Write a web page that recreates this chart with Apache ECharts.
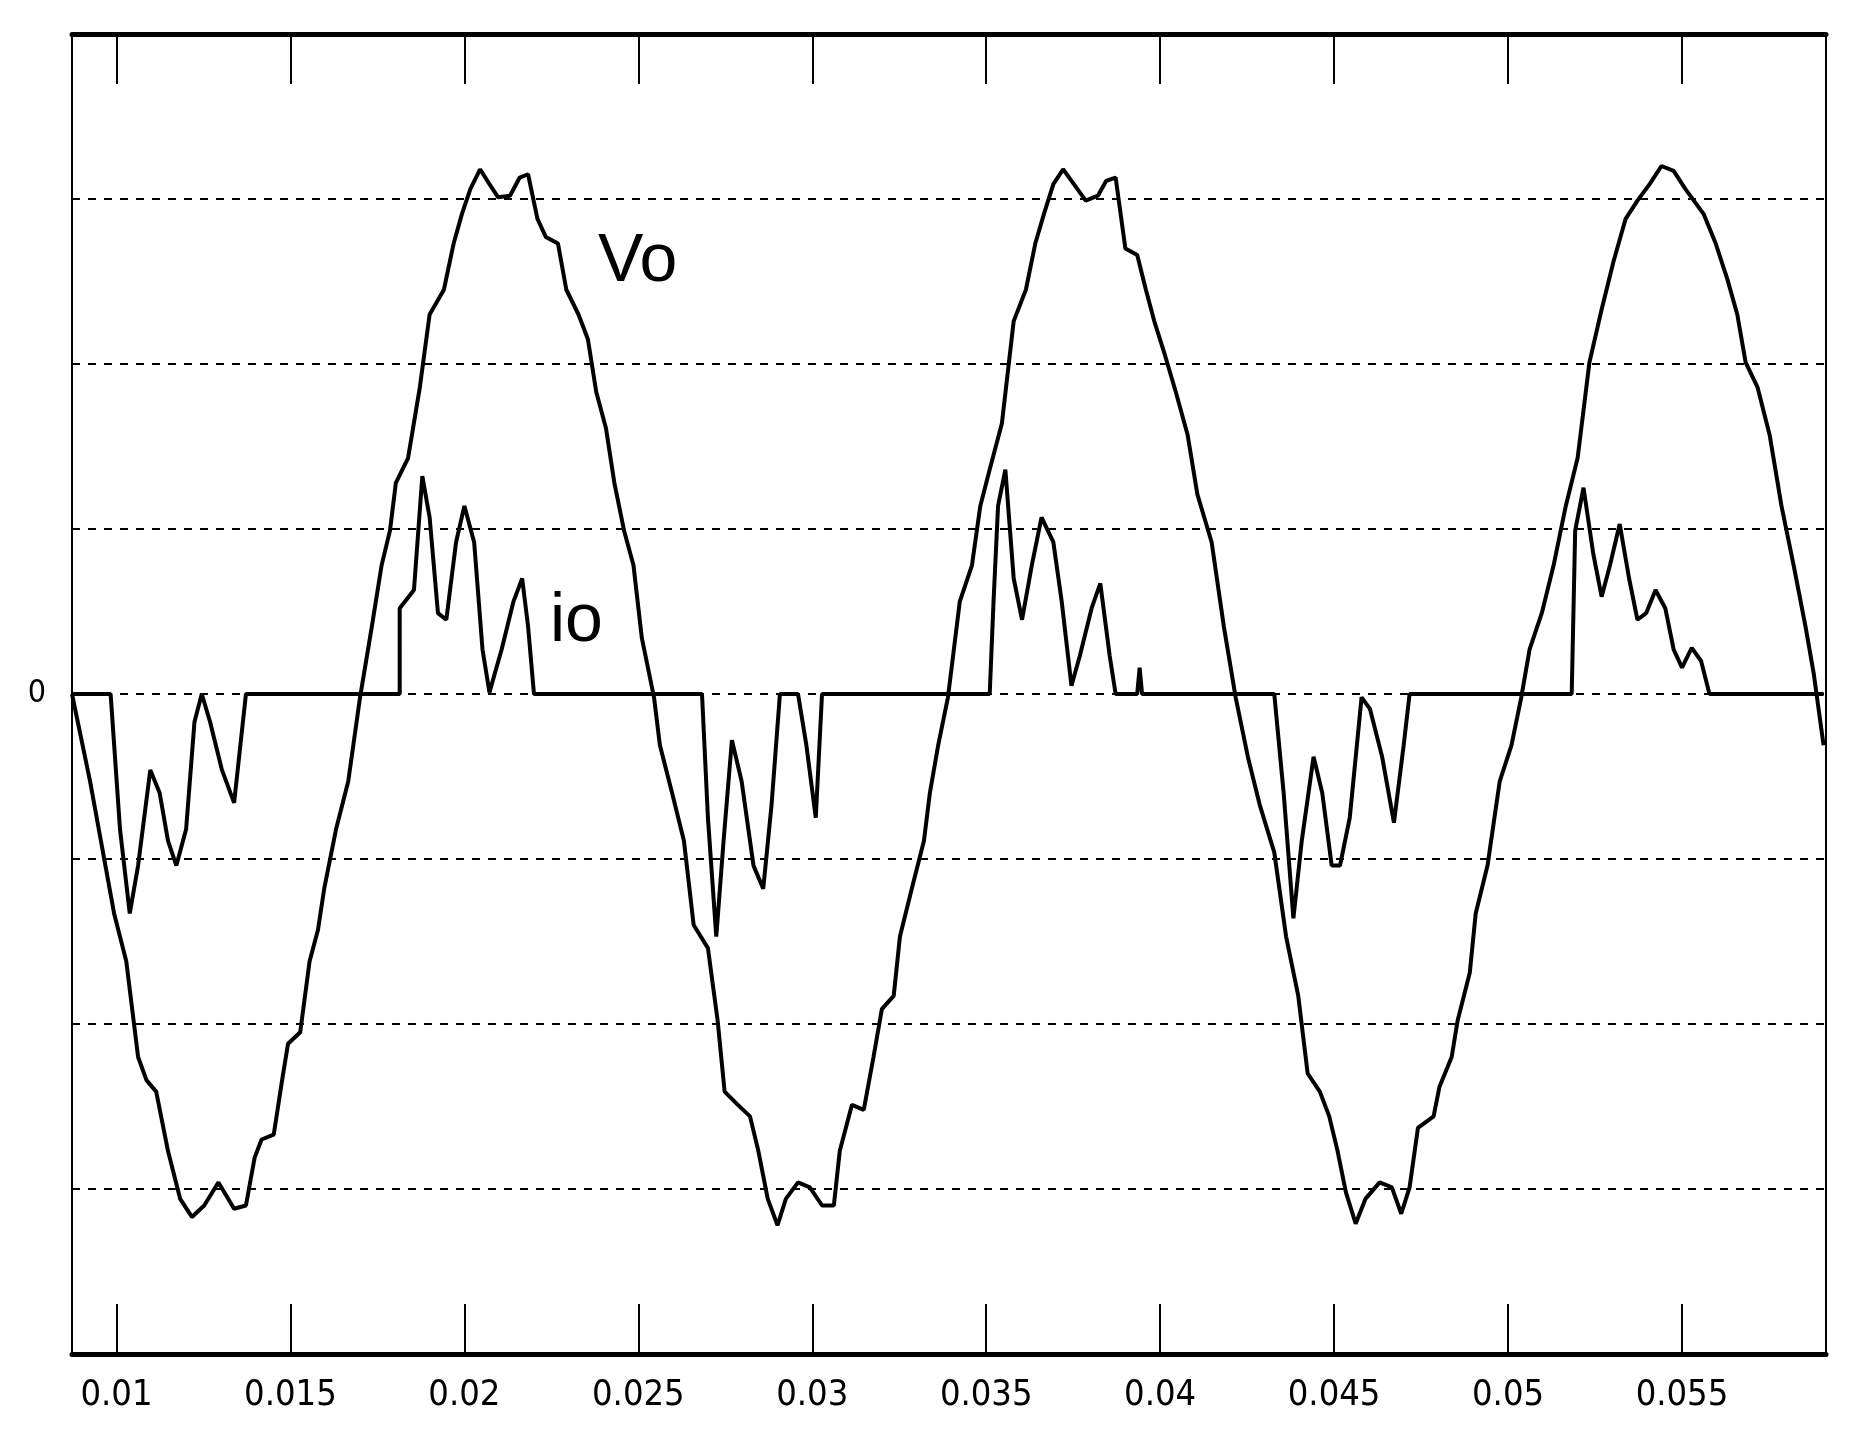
<!DOCTYPE html>
<html>
<head>
<meta charset="utf-8">
<script src="https://cdn.jsdelivr.net/npm/echarts@6/dist/echarts.min.js"></script>
<style>html,body{margin:0;padding:0;background:#fff}#main{width:1861px;height:1444px}</style>
</head>
<body>
<div id="main"></div>
<script>
var tickValues = [0.01, 0.015, 0.02, 0.025, 0.03, 0.035, 0.04, 0.045, 0.05, 0.055];
var tickLabels = ['0.01', '0.015', '0.02', '0.025', '0.03', '0.035', '0.04', '0.045', '0.05', '0.055'];

var vo = [
  [0.00872, 0], [0.00924, -0.53], [0.00993, -1.33], [0.01028, -1.62], [0.01062, -2.20], [0.01086, -2.34],
  [0.01114, -2.41], [0.01148, -2.77], [0.01183, -3.06], [0.01217, -3.17], [0.01252, -3.10], [0.01293, -2.96],
  [0.01338, -3.12], [0.01372, -3.10], [0.01397, -2.81], [0.01417, -2.70], [0.01452, -2.67], [0.01476, -2.34],
  [0.01493, -2.12], [0.01528, -2.05], [0.01555, -1.62], [0.01579, -1.43], [0.01597, -1.18], [0.01631, -0.82],
  [0.01666, -0.53], [0.01700, -0.02], [0.01734, 0.41], [0.01762, 0.78], [0.01786, 0.99], [0.01803, 1.28],
  [0.01838, 1.43], [0.01872, 1.86], [0.01900, 2.30], [0.01941, 2.45], [0.01969, 2.73], [0.01993, 2.91],
  [0.02017, 3.06], [0.02045, 3.18], [0.02072, 3.09], [0.02097, 3.01], [0.02131, 3.02], [0.02159, 3.13],
  [0.02183, 3.15], [0.02210, 2.88], [0.02234, 2.77], [0.02269, 2.73], [0.02293, 2.45], [0.02328, 2.30],
  [0.02355, 2.15], [0.02379, 1.83], [0.02407, 1.61], [0.02431, 1.28], [0.02459, 0.99], [0.02486, 0.78],
  [0.02510, 0.34], [0.02545, -0.02], [0.02562, -0.31], [0.02597, -0.60], [0.02631, -0.89], [0.02659, -1.40],
  [0.02700, -1.54], [0.02728, -1.98], [0.02748, -2.41], [0.02786, -2.49], [0.02821, -2.56], [0.02845, -2.77],
  [0.02872, -3.06], [0.02900, -3.22], [0.02924, -3.06], [0.02959, -2.96], [0.02993, -2.99], [0.03028, -3.10],
  [0.03062, -3.10], [0.03079, -2.77], [0.03114, -2.49], [0.03148, -2.52], [0.03176, -2.20], [0.03200, -1.91],
  [0.03234, -1.83], [0.03252, -1.47], [0.03286, -1.18], [0.03321, -0.89], [0.03338, -0.60], [0.03362, -0.31],
  [0.03390, -0.02], [0.03407, 0.27], [0.03424, 0.56], [0.03459, 0.78], [0.03483, 1.14], [0.03510, 1.36],
  [0.03545, 1.64], [0.03579, 2.26], [0.03614, 2.45], [0.03641, 2.73], [0.03666, 2.91], [0.03693, 3.09],
  [0.03721, 3.18], [0.03752, 3.09], [0.03786, 2.99], [0.03821, 3.02], [0.03845, 3.11], [0.03872, 3.13],
  [0.03900, 2.70], [0.03934, 2.66], [0.03959, 2.45], [0.03983, 2.26], [0.04010, 2.08], [0.04045, 1.83],
  [0.04079, 1.57], [0.04107, 1.21], [0.04148, 0.92], [0.04183, 0.41], [0.04217, -0.02], [0.04252, -0.38],
  [0.04286, -0.67], [0.04328, -0.96], [0.04362, -1.47], [0.04397, -1.83], [0.04424, -2.30], [0.04459, -2.41],
  [0.04486, -2.56], [0.04510, -2.77], [0.04534, -3.02], [0.04562, -3.21], [0.04590, -3.06], [0.04631, -2.96],
  [0.04666, -2.99], [0.04693, -3.15], [0.04717, -2.99], [0.04741, -2.63], [0.04786, -2.56], [0.04803, -2.38],
  [0.04838, -2.20], [0.04855, -1.98], [0.04890, -1.69], [0.04907, -1.33], [0.04941, -1.04], [0.04976, -0.53],
  [0.05010, -0.31], [0.05038, -0.02], [0.05062, 0.27], [0.05097, 0.49], [0.05131, 0.78], [0.05166, 1.14],
  [0.05200, 1.43], [0.05234, 2.01], [0.05269, 2.33], [0.05303, 2.62], [0.05338, 2.88], [0.05372, 2.99],
  [0.05407, 3.09], [0.05441, 3.20], [0.05476, 3.17], [0.05510, 3.06], [0.05562, 2.91], [0.05597, 2.73],
  [0.05631, 2.51], [0.05659, 2.30], [0.05683, 2.01], [0.05717, 1.86], [0.05752, 1.57], [0.05786, 1.14],
  [0.05821, 0.78], [0.05855, 0.41], [0.05879, 0.12], [0.05907, -0.31]
];

var io = [
  [0.00872, 0], [0.00983, 0], [0.01010, -0.82], [0.01038, -1.33], [0.01062, -1.04], [0.01097, -0.46],
  [0.01124, -0.60], [0.01148, -0.89], [0.01172, -1.04], [0.01200, -0.82], [0.01224, -0.17], [0.01245, 0],
  [0.01269, -0.17], [0.01303, -0.46], [0.01338, -0.66], [0.01372, 0], [0.01700, 0], [0.01814, 0],
  [0.01814, 0.52], [0.01855, 0.63], [0.01879, 1.32], [0.01900, 1.07], [0.01924, 0.49], [0.01948, 0.45],
  [0.01976, 0.92], [0.02000, 1.14], [0.02028, 0.92], [0.02052, 0.27], [0.02072, 0.01], [0.02107, 0.27],
  [0.02141, 0.56], [0.02166, 0.70], [0.02183, 0.41], [0.02200, 0], [0.02683, 0], [0.02700, -0.75],
  [0.02724, -1.47], [0.02745, -0.89], [0.02769, -0.28], [0.02797, -0.53], [0.02831, -1.04], [0.02859, -1.18],
  [0.02883, -0.67], [0.02907, 0], [0.02959, 0], [0.02983, -0.31], [0.03010, -0.75], [0.03028, 0],
  [0.03510, 0], [0.03521, 0.56], [0.03534, 1.14], [0.03555, 1.36], [0.03579, 0.70], [0.03603, 0.45],
  [0.03631, 0.78], [0.03659, 1.07], [0.03693, 0.92], [0.03717, 0.56], [0.03745, 0.05], [0.03769, 0.23],
  [0.03803, 0.52], [0.03828, 0.67], [0.03855, 0.23], [0.03872, 0], [0.03934, 0], [0.03941, 0.16],
  [0.03948, 0], [0.04328, 0], [0.04355, -0.60], [0.04383, -1.36], [0.04407, -0.89], [0.04441, -0.38],
  [0.04466, -0.60], [0.04493, -1.04], [0.04517, -1.04], [0.04545, -0.75], [0.04579, -0.02], [0.04603, -0.09],
  [0.04638, -0.38], [0.04672, -0.78], [0.04700, -0.31], [0.04717, 0], [0.05183, 0], [0.05193, 0.99],
  [0.05217, 1.25], [0.05245, 0.85], [0.05269, 0.59], [0.05293, 0.78], [0.05321, 1.03], [0.05348, 0.70],
  [0.05372, 0.45], [0.05397, 0.49], [0.05424, 0.63], [0.05452, 0.52], [0.05476, 0.27], [0.05500, 0.16],
  [0.05528, 0.28], [0.05555, 0.20], [0.05579, 0], [0.05907, 0]
];

var myChart = echarts.init(document.getElementById('main'));

var option = {
  animation: false,
  grid: { left: 72, right: 35, top: 34, bottom: 90, show: true, borderColor: '#000', borderWidth: 2 },
  xAxis: [
    {
      type: 'value', min: 0.00872, max: 0.05914,
      axisLine: { show: true, onZero: false, lineStyle: { color: '#000', width: 5 } },
      axisTick: { show: true, inside: true, length: 50, customValues: tickValues, lineStyle: { color: '#000', width: 2 } },
      axisLabel: {
        customValues: tickValues, margin: 24, color: '#000',
        fontFamily: 'Liberation Sans Narrow, DejaVu Sans Condensed, sans-serif', fontSize: 36,
        formatter: function (v) { return tickLabels[tickValues.indexOf(v)] || ''; }
      },
      splitLine: { show: false }
    },
    {
      type: 'value', position: 'top', min: 0.00872, max: 0.05914,
      axisLine: { show: true, onZero: false, lineStyle: { color: '#000', width: 5 } },
      axisTick: { show: true, inside: true, length: 50, customValues: tickValues, lineStyle: { color: '#000', width: 2 } },
      axisLabel: { show: false },
      splitLine: { show: false }
    }
  ],
  yAxis: {
    type: 'value', min: -4, max: 4, interval: 1,
    axisLine: { show: true, lineStyle: { color: '#000', width: 2 } },
    axisTick: { show: false },
    axisLabel: {
      color: '#000', fontSize: 32, margin: 26,
      fontFamily: 'Liberation Sans Narrow, DejaVu Sans Condensed, sans-serif',
      formatter: function (v) { return v === 0 ? '0' : ''; }
    },
    splitLine: { show: true, lineStyle: { color: '#000', type: [8, 8], width: 2 } }
  },
  series: [
    { name: 'Vo', type: 'line', data: vo, showSymbol: false, lineStyle: { color: '#000', width: 4 } },
    { name: 'io', type: 'line', data: io, showSymbol: false, lineStyle: { color: '#000', width: 4 } }
  ],
  graphic: [
    { type: 'text', left: 598, top: 228, style: { text: 'Vo', fontSize: 68, fill: '#000', fontFamily: 'Liberation Sans, sans-serif' } },
    { type: 'text', left: 550, top: 588, style: { text: 'io', fontSize: 68, fill: '#000', fontFamily: 'Liberation Sans, sans-serif' } }
  ]
};

myChart.setOption(option);
window.addEventListener('resize', myChart.resize);
</script>
</body>
</html>
